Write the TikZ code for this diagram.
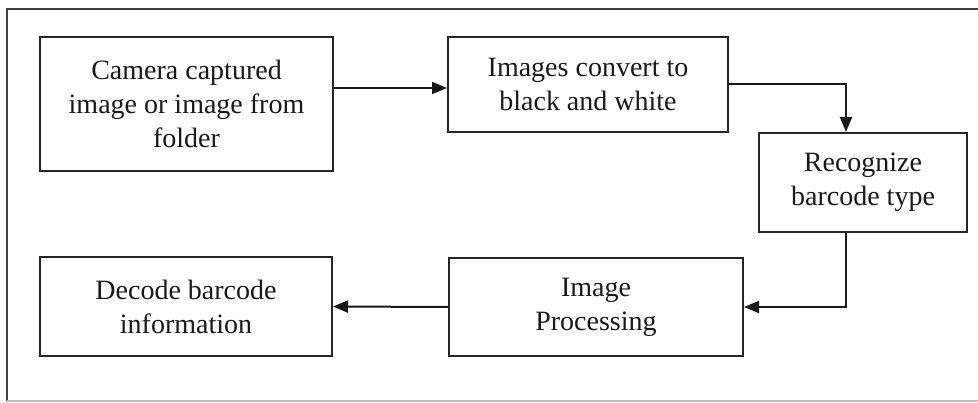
\documentclass[tikz,border=0pt]{standalone}
\usepackage{fontspec}
\setmainfont{Liberation Serif}
\usepackage{tikz}
\usetikzlibrary{arrows.meta, positioning}

\tikzset{
    stagebox/.style={draw=black!85, line width=2pt, align=center, text=black!90,
        font=\fontsize{28}{34}\selectfont, inner sep=0pt},
    flow/.style={-{Triangle[length=15pt, width=12pt]}, line width=2pt, draw=black!90}
}

\begin{document}
\begin{tikzpicture}[x=1pt, y=-1pt]
    \useasboundingbox (0,0) rectangle (978,403);

    % Outer frame
    \draw[black!75, line width=1.6pt] (7,401) -- (7,9) -- (978,9);
    \draw[black!25, line width=1.2pt] (7,401) -- (978,401);

    % Stages
    \node[stagebox, minimum width=293pt, minimum height=134pt] (capture) at (186.5,104)
        {Camera captured\\image or image from\\folder};
    \node[stagebox, minimum width=280pt, minimum height=95pt] (bw) at (588,84.5)
        {Images convert to\\black and white};
    \node[stagebox, minimum width=208pt, minimum height=99pt] (recog) at (863,182.5)
        {Recognize\\barcode type};
    \node[stagebox, minimum width=294pt, minimum height=98pt] (proc) at (596,307)
        {Image\\Processing};
    \node[stagebox, minimum width=292pt, minimum height=99pt] (decode) at (186,306.5)
        {Decode barcode\\information};

    % Connectors
    \coordinate (top) at (0,88);
    \coordinate (bend) at (846,0);
    \draw[flow] (capture.east |- top) -- (bw.west |- top);
    \draw[flow] (bw.east) -| (bend |- recog.north);
    \draw[flow] (bend |- recog.south) |- (proc.east);
    \draw[flow] (proc.west) -- (decode.east);
\end{tikzpicture}
\end{document}
